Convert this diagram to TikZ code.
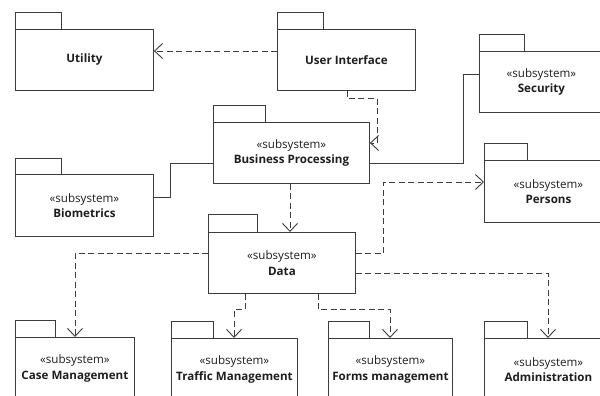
\documentclass[tikz,border=0pt]{standalone}
\usepackage{fontspec}
\setmainfont{Open Sans}
\usetikzlibrary{arrows.meta}
\definecolor{linec}{HTML}{3C3C3C}
\definecolor{textc}{HTML}{1E1E1E}
\begin{document}
\begin{tikzpicture}[x=1pt,y=-1pt,
  pkg/.style={draw=linec, line width=0.9pt, fill=white, anchor=north west, align=center,
    inner sep=0pt, font=\fontsize{11.6}{15.5}\selectfont, text=textc},
  tabbox/.style={draw=linec, line width=0.9pt},
  conn/.style={draw=linec, line width=0.9pt},
  dep/.style={draw=linec, line width=0.9pt, dash pattern=on 6pt off 3.5pt,
    -{Straight Barb[length=8pt,width=15pt]}}]
\useasboundingbox (0,0) rectangle (600,396);
\clip (0,0) rectangle (600,396);
\fill[white] (0,0) rectangle (600,396);

% packages
\node[pkg, minimum width=138pt, minimum height=61pt] (util) at (15,29) {\textbf{Utility}};
\draw[tabbox] (util.north west) rectangle ++(46,-17);
\node[pkg, minimum width=138pt, minimum height=61pt] (ui) at (277,29) {\textbf{User Interface}};
\draw[tabbox] (ui.north west) rectangle ++(46,-17);
\node[pkg, minimum width=124pt, minimum height=61pt] (sec) at (479,51) {«subsystem»\\\textbf{Security}};
\draw[tabbox] (sec.north west) rectangle ++(45,-17);
\node[pkg, minimum width=156pt, minimum height=61pt] (bp) at (213,122) {«subsystem»\\\textbf{Business Processing}};
\draw[tabbox] (bp.north west) rectangle ++(52,-17);
\node[pkg, minimum width=138pt, minimum height=62pt] (bio) at (15,174) {«subsystem»\\\textbf{Biometrics}};
\draw[tabbox] (bio.north west) rectangle ++(46,-16);
\node[pkg, minimum width=128pt, minimum height=62pt] (per) at (484,160) {«subsystem»\\\textbf{Persons}};
\draw[tabbox] (per.north west) rectangle ++(43,-17);
\node[pkg, minimum width=147pt, minimum height=61pt] (data) at (208,232) {«subsystem»\\\textbf{Data}};
\draw[tabbox] (data.north west) rectangle ++(49,-18);
\node[pkg, minimum width=119pt, minimum height=62pt] (case) at (15,337) {«subsystem»\\\textbf{Case Management}};
\draw[tabbox] (case.north west) rectangle ++(40,-17);
\node[pkg, minimum width=126pt, minimum height=62pt] (traf) at (171,338) {«subsystem»\\\textbf{Traffic Management}};
\draw[tabbox] (traf.north west) rectangle ++(42,-17);
\node[pkg, minimum width=124pt, minimum height=62pt] (form) at (328,338) {«subsystem»\\\textbf{Forms management}};
\draw[tabbox] (form.north west) rectangle ++(41,-17);
\node[pkg, minimum width=128pt, minimum height=62pt] (adm) at (484,338) {«subsystem»\\\textbf{Administration}};
\draw[tabbox] (adm.north west) rectangle ++(43,-17);

% connectors
\draw[dep] ([yshift=-22pt]ui.north west) -- ([yshift=-22pt]util.north east);
\draw[dep] ([xshift=70pt]ui.south west) |- ++(30,8) |- ([yshift=-21pt]bp.north east);
\draw[conn] ([yshift=-23pt]bio.north east) -- ++(17,0) |- ([yshift=-41pt]bp.north west);
\draw[conn] ([yshift=-41pt]bp.north east) -- ++(94,0) |- ([yshift=-23pt]sec.north west);
\draw[dep] ([xshift=77pt]bp.south west) -- ([xshift=82pt]data.north west);
\draw[dep] ([yshift=-21pt]data.north east) -- ++(28,0) |- ([yshift=-22pt]per.north west);
\draw[dep] ([yshift=-21pt]data.north west) -| ([xshift=60pt]case.north west);
\draw[dep] ([xshift=37pt]data.south west) -- ++(0,16) -| ([xshift=63pt]traf.north west);
\draw[dep] ([xshift=110pt]data.south west) -- ++(0,16) -| ([xshift=62pt]form.north west);
\draw[dep] ([yshift=-41pt]data.north east) -| ([xshift=64pt]adm.north west);
\end{tikzpicture}
\end{document}
